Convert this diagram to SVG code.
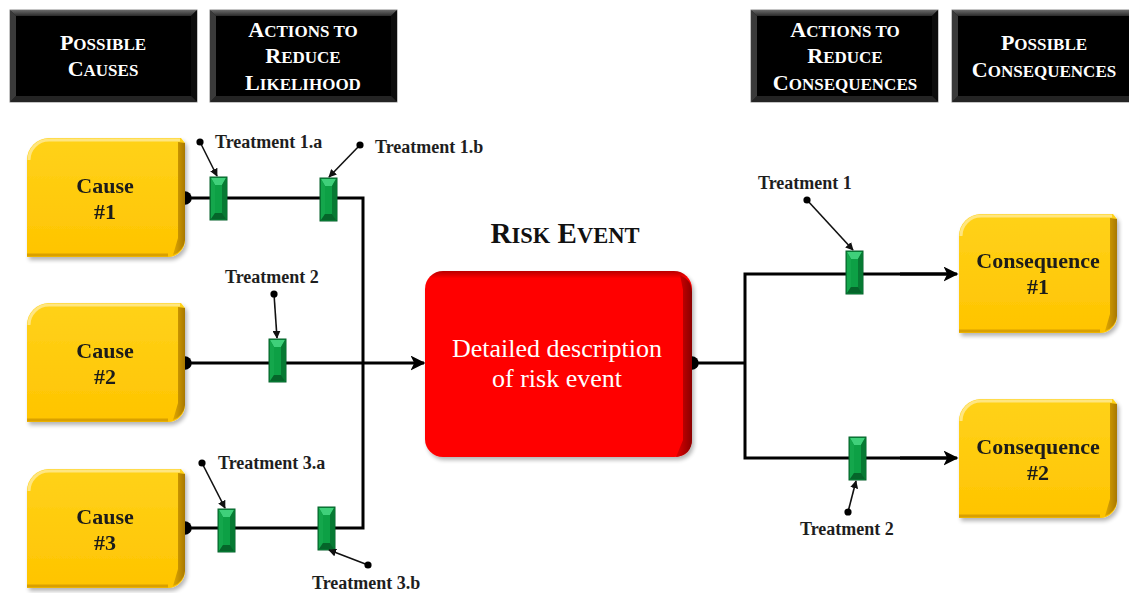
<svg xmlns="http://www.w3.org/2000/svg" xmlns:xlink="http://www.w3.org/1999/xlink" width="1129" height="593" viewBox="0 0 1129 593">
  <style>
    .hdr { font-family: "Liberation Serif", "Times New Roman", serif; font-weight: bold; fill: #ffffff; text-anchor: middle; }
    .lbl { font-family: "Liberation Serif", "Times New Roman", serif; font-weight: bold; font-size: 18px; fill: #1e1e1e; }
    .node { font-family: "Liberation Serif", "Times New Roman", serif; font-weight: bold; font-size: 22px; fill: #1a1a1a; text-anchor: middle; }
    .risk { font-family: "Liberation Serif", "Times New Roman", serif; font-size: 26px; fill: #ffffff; text-anchor: middle; }
    .title { font-family: "Liberation Serif", "Times New Roman", serif; font-weight: bold; fill: #111; text-anchor: middle; }
    .flow { fill: none; stroke: #000; stroke-width: 3; }
    .call { fill: none; stroke: #111; stroke-width: 1.6; }
  </style>
  <defs>
    <marker id="arr" viewBox="0 0 10 10" refX="9" refY="5" markerWidth="5" markerHeight="5" markerUnits="strokeWidth" orient="auto">
      <path d="M0,0 L10,5 L0,10 L2.5,5 Z" fill="#000"/>
    </marker>
    <marker id="arrs" viewBox="0 0 10 10" refX="9" refY="5" markerWidth="5" markerHeight="5" markerUnits="strokeWidth" orient="auto">
      <path d="M0,0 L10,5 L0,10 Z" fill="#111"/>
    </marker>
    <marker id="dot" viewBox="0 0 10 10" refX="5" refY="5" markerWidth="4.5" markerHeight="4.5" markerUnits="strokeWidth">
      <circle cx="5" cy="5" r="5" fill="#000"/>
    </marker>
    <linearGradient id="gold" x1="0" y1="0" x2="0" y2="1">
      <stop offset="0" stop-color="#ffd21a"/>
      <stop offset="1" stop-color="#ffc400"/>
    </linearGradient>
    <linearGradient id="goldSide" x1="0" y1="0" x2="1" y2="0">
      <stop offset="0" stop-color="#e0a800"/>
      <stop offset="1" stop-color="#a87800"/>
    </linearGradient>
    <linearGradient id="red" x1="0" y1="0" x2="0" y2="1">
      <stop offset="0" stop-color="#b80000"/>
      <stop offset="0.04" stop-color="#ff0000"/>
      <stop offset="1" stop-color="#ff0000"/>
    </linearGradient>
    <linearGradient id="redSide" x1="0" y1="0" x2="1" y2="0">
      <stop offset="0" stop-color="#e00000"/>
      <stop offset="1" stop-color="#8a0000"/>
    </linearGradient>
    <linearGradient id="hdrTop" x1="0" y1="0" x2="0" y2="1">
      <stop offset="0" stop-color="#6a6a6a"/>
      <stop offset="1" stop-color="#2a2a2a"/>
    </linearGradient>
    <filter id="soft" x="-10%" y="-10%" width="125%" height="125%">
      <feGaussianBlur in="SourceAlpha" stdDeviation="2"/>
      <feOffset dx="2" dy="3"/>
      <feComponentTransfer><feFuncA type="linear" slope="0.3"/></feComponentTransfer>
      <feMerge><feMergeNode/><feMergeNode in="SourceGraphic"/></feMerge>
    </filter>
    <!-- bevelled black header plate, 187 x 92 -->
    <g id="plate">
      <rect x="0" y="0" width="187" height="92" fill="#1a1a1a" stroke="#8a8a8a" stroke-width="1"/>
      <polygon points="0,0 187,0 181,6 6,6" fill="url(#hdrTop)"/>
      <polygon points="0,0 6,6 6,86 0,92" fill="#3a3a3a"/>
      <polygon points="187,0 187,92 181,86 181,6" fill="#0c0c0c"/>
      <polygon points="0,92 187,92 181,86 6,86" fill="#242424"/>
      <rect x="6" y="6" width="175" height="80" fill="#000"/>
    </g>
    <!-- green treatment marker, 17 x 43 -->
    <g id="tx">
      <rect x="0" y="0" width="17" height="43" fill="#0b8f3c" stroke="#05602a" stroke-width="1"/>
      <polygon points="1,1 16,1 12,8 5,8" fill="#3fd07a"/>
      <polygon points="1,1 5,8 5,36 1,42" fill="#14a74c"/>
      <polygon points="16,1 16,42 12,36 12,8" fill="#077a33"/>
      <polygon points="1,42 16,42 12,36 5,36" fill="#05652a"/>
      <rect x="5" y="8" width="7" height="28" fill="#0da045"/>
    </g>
    <!-- gold cause / consequence tile, 158 x 119 -->
    <g id="tile">
      <path d="M0,22 A22,22 0 0 1 22,0 L154,0 L158,5 L158,102 A17,17 0 0 1 141,119 L0,119 Z" fill="url(#gold)"/>
      <path d="M151,4 L158,5 L158,102 A17,17 0 0 1 146,117 L151,100 Z" fill="url(#goldSide)"/>
      <path d="M2,22 A20,20 0 0 1 22,2 L153,2" fill="none" stroke="#ffe680" stroke-width="3"/>
      <path d="M0,117 L141,117" fill="none" stroke="#d9a000" stroke-width="3"/>
    </g>
  </defs>

  <rect width="1129" height="593" fill="#ffffff"/>

  <!-- column headers -->
  <g id="hdr-causes">
    <use xlink:href="#plate" x="10" y="10"/>
    <text class="hdr" x="103" y="50"><tspan font-size="22">P</tspan><tspan font-size="17">OSSIBLE</tspan></text>
    <text class="hdr" x="103" y="76"><tspan font-size="22">C</tspan><tspan font-size="17">AUSES</tspan></text>
  </g>
  <g id="hdr-likelihood">
    <use xlink:href="#plate" x="210" y="10"/>
    <text class="hdr" x="303" y="37"><tspan font-size="22">A</tspan><tspan font-size="17">CTIONS TO</tspan></text>
    <text class="hdr" x="303" y="63"><tspan font-size="22">R</tspan><tspan font-size="17">EDUCE</tspan></text>
    <text class="hdr" x="303" y="90"><tspan font-size="22">L</tspan><tspan font-size="17">IKELIHOOD</tspan></text>
  </g>
  <g id="hdr-reduce-consequences">
    <use xlink:href="#plate" x="751" y="10"/>
    <text class="hdr" x="845" y="37"><tspan font-size="22">A</tspan><tspan font-size="17">CTIONS TO</tspan></text>
    <text class="hdr" x="845" y="63"><tspan font-size="22">R</tspan><tspan font-size="17">EDUCE</tspan></text>
    <text class="hdr" x="845" y="90"><tspan font-size="22">C</tspan><tspan font-size="17">ONSEQUENCES</tspan></text>
  </g>
  <g id="hdr-consequences">
    <use xlink:href="#plate" x="952" y="10"/>
    <text class="hdr" x="1044" y="50"><tspan font-size="22">P</tspan><tspan font-size="17">OSSIBLE</tspan></text>
    <text class="hdr" x="1044" y="77"><tspan font-size="22">C</tspan><tspan font-size="17">ONSEQUENCES</tspan></text>
  </g>

  <!-- flow lines -->
  <g id="connectors">
    <path class="flow" d="M185,198 H363 V528 H185" marker-start="url(#dot)" marker-end="url(#dot)"/>
    <path class="flow" d="M185,363 H424" marker-start="url(#dot)" marker-end="url(#arr)"/>
    <path class="flow" d="M692,363 H745" marker-start="url(#dot)"/>
    <path class="flow" d="M950,274 H745 V458 H950"/>
    <path class="flow" d="M900,274 H957" marker-end="url(#arr)"/>
    <path class="flow" d="M900,458 H957" marker-end="url(#arr)"/>
  </g>

  <!-- causes -->
  <g id="cause-1" filter="url(#soft)">
    <use xlink:href="#tile" x="27" y="138"/>
    <text class="node" x="105" y="193">Cause</text>
    <text class="node" x="105" y="219">#1</text>
  </g>
  <g id="cause-2" filter="url(#soft)">
    <use xlink:href="#tile" x="27" y="303"/>
    <text class="node" x="105" y="358">Cause</text>
    <text class="node" x="105" y="384">#2</text>
  </g>
  <g id="cause-3" filter="url(#soft)">
    <use xlink:href="#tile" x="27" y="469"/>
    <text class="node" x="105" y="524">Cause</text>
    <text class="node" x="105" y="550">#3</text>
  </g>

  <!-- risk event -->
  <g id="risk-event">
    <text class="title" x="565" y="243"><tspan font-size="29">R</tspan><tspan font-size="22.5">ISK</tspan><tspan font-size="29"> E</tspan><tspan font-size="22.5">VENT</tspan></text>
    <g filter="url(#soft)">
      <rect x="425" y="271" width="267" height="186" rx="18" fill="url(#red)"/>
      <path d="M680,275 Q692,280 692,292 L692,439 Q692,455 676,457 L683,440 L683,290 Z" fill="url(#redSide)"/>
    </g>
    <text class="risk" x="557" y="357">Detailed description</text>
    <text class="risk" x="557" y="387">of risk event</text>
  </g>

  <!-- consequences -->
  <g id="consequence-1" filter="url(#soft)">
    <use xlink:href="#tile" x="959" y="214"/>
    <text class="node" x="1038" y="268">Consequence</text>
    <text class="node" x="1038" y="294">#1</text>
  </g>
  <g id="consequence-2" filter="url(#soft)">
    <use xlink:href="#tile" x="959" y="399"/>
    <text class="node" x="1038" y="454">Consequence</text>
    <text class="node" x="1038" y="480">#2</text>
  </g>

  <!-- treatments -->
  <g id="treatment-1a">
    <use xlink:href="#tx" x="210" y="177"/>
    <path class="call" d="M200,142 L217,176" marker-start="url(#dot)" marker-end="url(#arrs)"/>
    <text class="lbl" x="215" y="148">Treatment 1.a</text>
  </g>
  <g id="treatment-1b">
    <use xlink:href="#tx" x="320" y="178"/>
    <path class="call" d="M360,145 L329,177" marker-start="url(#dot)" marker-end="url(#arrs)"/>
    <text class="lbl" x="375" y="153">Treatment 1.b</text>
  </g>
  <g id="treatment-2">
    <use xlink:href="#tx" x="269" y="339"/>
    <path class="call" d="M274,294 L277,338" marker-start="url(#dot)" marker-end="url(#arrs)"/>
    <text class="lbl" x="225" y="283">Treatment 2</text>
  </g>
  <g id="treatment-3a">
    <use xlink:href="#tx" x="218" y="509"/>
    <path class="call" d="M202,463 L225,508" marker-start="url(#dot)" marker-end="url(#arrs)"/>
    <text class="lbl" x="218" y="469">Treatment 3.a</text>
  </g>
  <g id="treatment-3b">
    <use xlink:href="#tx" x="318" y="507"/>
    <path class="call" d="M368,565 L329,550" marker-start="url(#dot)" marker-end="url(#arrs)"/>
    <text class="lbl" x="312" y="589">Treatment 3.b</text>
  </g>
  <g id="treatment-c1">
    <use xlink:href="#tx" x="846" y="251"/>
    <path class="call" d="M807,200 L853,250" marker-start="url(#dot)" marker-end="url(#arrs)"/>
    <text class="lbl" x="758" y="189">Treatment 1</text>
  </g>
  <g id="treatment-c2">
    <use xlink:href="#tx" x="849" y="437"/>
    <path class="call" d="M848,512 L856,481" marker-start="url(#dot)" marker-end="url(#arrs)"/>
    <text class="lbl" x="800" y="535">Treatment 2</text>
  </g>
</svg>
